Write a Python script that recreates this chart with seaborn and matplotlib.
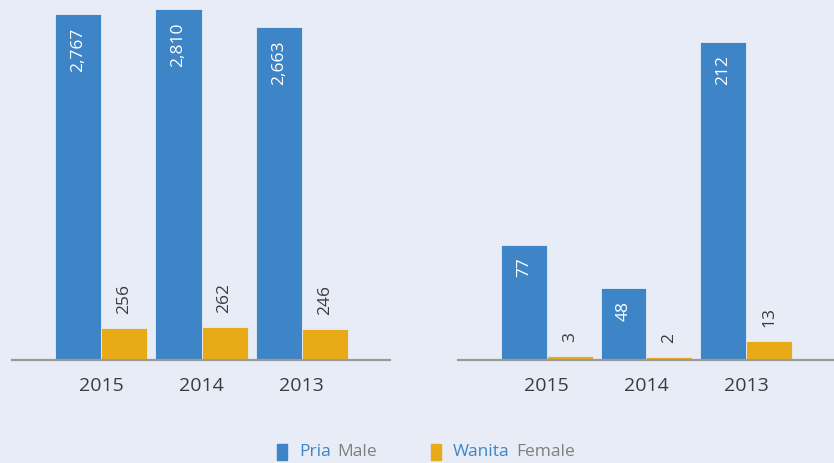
import pandas as pd
import seaborn as sns
import matplotlib.pyplot as plt
from matplotlib.patches import Rectangle

sns.set_style('white')
plt.rcParams['font.family'] = ['Open Sans', 'DejaVu Sans']

years = ['2015', '2014', '2013']
genders = ['Pria', 'Wanita']
left_male = [2767, 2810, 2663]
left_female = [256, 262, 246]
right_male = [77, 48, 212]
right_female = [3, 2, 13]

blue = '#3e85c7'
yellow = '#e8ab17'
bg = '#e8ecf6'
dark = '#3c3c3c'


def long_df(male, female):
    return pd.DataFrame({
        'year': years * 2,
        'gender': ['Pria'] * 3 + ['Wanita'] * 3,
        'value': male + female,
    })


fig = plt.figure(figsize=(8.34, 4.63), dpi=100, facecolor=bg)
W, H = 834, 463
ax1 = fig.add_axes([12 / W, 103 / H, 378 / W, 360 / H])
ax2 = fig.add_axes([458 / W, 103 / H, 376 / W, 360 / H])

panels = [(ax1, left_male, left_female, 2882), (ax2, right_male, right_female, 240)]
for ax, male, female, ytop in panels:
    df = long_df(male, female)
    sns.barplot(data=df, x='year', y='value', hue='gender', order=years,
                hue_order=genders, palette=[blue, yellow], width=0.92,
                saturation=1, errorbar=None, legend=False, ax=ax,
                edgecolor=bg, linewidth=0.6)
    ax.set_facecolor(bg)
    ax.set_ylim(0, ytop)
    ax.set_xlim(-0.89, 2.88)
    ax.set_xlabel('')
    ax.set_ylabel('')
    ax.set_yticks([])
    sns.despine(ax=ax, left=True)
    ax.spines['bottom'].set_color('#9a9a9a')
    ax.spines['bottom'].set_linewidth(1.6)
    ax.tick_params(axis='x', length=0, pad=12, labelsize=14, labelcolor=dark)

    # male values inside the top of the bar, female values above the bar
    for bar, v in zip(ax.containers[0], male):
        ax.annotate(f'{v:,}', (bar.get_x() + bar.get_width() / 2, bar.get_height()),
                    xytext=(0, -9.5), textcoords='offset points', rotation=90,
                    ha='center', va='top', color='white', fontsize=12.5)
    for bar, v in zip(ax.containers[1], female):
        ax.annotate(f'{v:,}', (bar.get_x() + bar.get_width() / 2, bar.get_height()),
                    xytext=(0, 10), textcoords='offset points', rotation=90,
                    ha='center', va='bottom', color=dark, fontsize=12.5)

# legend at the bottom
for x0, col, word, trans, x1, x2 in [(277, blue, 'Pria', 'Male', 299, 337),
                                     (431, yellow, 'Wanita', 'Female', 453, 516)]:
    fig.patches.append(Rectangle((x0 / W, 3 / H), 10 / W, 16 / H,
                                 transform=fig.transFigure, color=col))
    fig.text(x1 / W, 11 / H, word, color=blue, fontsize=12.5, va='center')
    fig.text(x2 / W, 11 / H, trans, color='#7f7f7f', fontsize=12.5, va='center')

fig.savefig('out.png', dpi=100, facecolor=bg)
